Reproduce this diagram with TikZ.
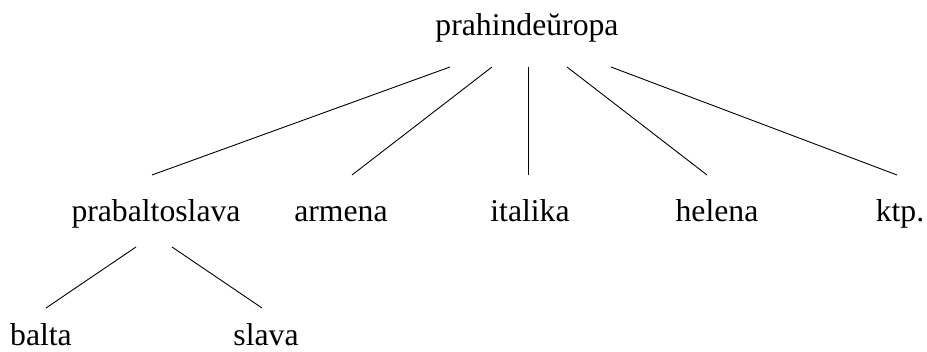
\documentclass[tikz,border=0pt]{standalone}
\usepackage{fontspec}
\setmainfont{Liberation Serif}
\usepackage{tikz}

\begin{document}
\begin{tikzpicture}[x=1pt, y=1pt,
  word/.style={anchor=base, inner sep=0pt, font=\fontsize{31.7}{38}\selectfont},
  branch/.style={line width=0.9pt}]
  \useasboundingbox (0,0) rectangle (927,352);

  % the words of the tree
  \node[word] (root) at (527,316) {prahindeŭropa};
  \node[word] (pbs) at (156,130) {prabaltoslava};
  \node[word] (arm) at (341,130) {armena};
  \node[word] (ita) at (530,130) {italika};
  \node[word] (hel) at (717,130) {helena};
  \node[word] (ktp) at (900,130) {ktp.};
  \node[word] (bal) at (41,6) {balta};
  \node[word] (sla) at (266,6) {slava};

  % branches below the root
  \foreach \n/\ux/\lx in {pbs/450/152, arm/492/352, ita/528/528, hel/567/707, ktp/611/897} {
    \coordinate (\n-up) at (\ux,285);
    \coordinate (\n-low) at (\lx,177);
    \draw[branch] (\n-up) -- (\n-low);
  }

  % branches below prabaltoslava
  \foreach \n/\ux/\lx in {bal/136/46, sla/172/262} {
    \coordinate (\n-up) at (\ux,105);
    \coordinate (\n-low) at (\lx,44);
    \draw[branch] (\n-up) -- (\n-low);
  }
\end{tikzpicture}
\end{document}
